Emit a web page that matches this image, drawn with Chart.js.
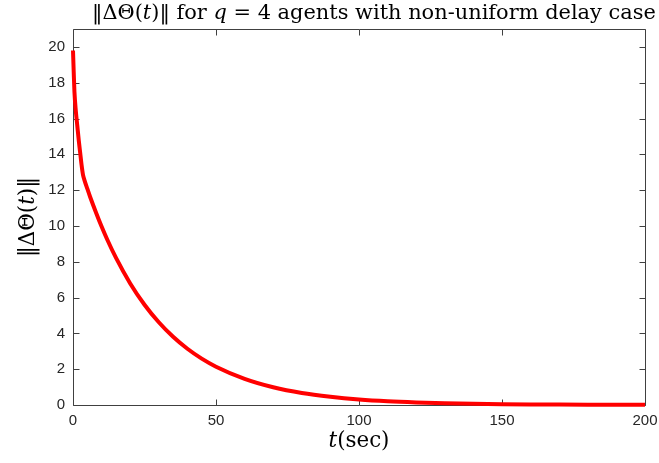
<!DOCTYPE html>
<html>
<head>
<meta charset="utf-8">
<script src="https://cdn.jsdelivr.net/npm/chart.js@4"></script>
<style>
html,body{margin:0;padding:0;background:#fff;}
#wrap{width:659px;height:463px;}
</style>
</head>
<body>
<div id="wrap"><canvas id="c" width="659" height="463"></canvas></div>
<script>
const tValues = [0,0.25,0.5,1,1.5,2,2.5,3,3.5,4,5,6,8,10,12,15,20,25,30,35,40,45,50,60,70,80,90,100,110,120,130,140,150,160,170,180,190,200];
const normValues = [19.8,18.6,17.5,16.4,15.6,14.8,14.1,13.4,12.85,12.56,12.08,11.62,10.77,9.97,9.23,8.23,6.79,5.60,4.62,3.81,3.14,2.59,2.14,1.46,0.99,0.67,0.46,0.31,0.21,0.145,0.10,0.067,0.046,0.031,0.021,0.014,0.010,0.007];
const xTicks = [0,50,100,150,200];
const yTicks = [0,2,4,6,8,10,12,14,16,18,20];

const titleSegs = [
  {t:'\u2016\u0394\u0398(',i:false},{t:'t',i:true},{t:')\u2016 for ',i:false},{t:'q',i:true},{t:' = 4 agents with non-uniform delay case',i:false}
];
const yLabelSegs = [{t:'\u2016\u0394\u0398(',i:false},{t:'t',i:true},{t:')\u2016',i:false}];
const xLabelSegs = [{t:'t',i:true},{t:'(sec)',i:false}];

const SERIF = '"DejaVu Serif", "Liberation Serif", serif';
function segFont(s,size){return (s.i?'italic ':'')+size+'px '+SERIF;}
function segWidth(ctx,segs,size){let w=0;for(const s of segs){ctx.font=segFont(s,size);w+=ctx.measureText(s.t).width;}return w;}
function drawSegs(ctx,segs,size,x,y){let cx=x;for(const s of segs){ctx.font=segFont(s,size);ctx.fillText(s.t,cx,y);cx+=ctx.measureText(s.t).width;}}
function fitSize(ctx,segs,w){const base=20;return base*w/segWidth(ctx,segs,base);}

const AX = '#262626';
const decor = {
  id:'decor',
  beforeDatasetsDraw(chart){
    const {ctx, chartArea:a, scales:{x,y}} = chart;
    ctx.save();
    ctx.strokeStyle = '#404040'; ctx.lineWidth = 1;
    const L=Math.round(a.left)+0.5, R=Math.round(a.right)+0.5, T=Math.round(a.top)+0.5, B=Math.round(a.bottom)+0.5;
    ctx.beginPath();
    ctx.moveTo(L,T);ctx.lineTo(R,T);ctx.lineTo(R,B);ctx.lineTo(L,B);ctx.closePath();
    const tl=6;
    for(const v of xTicks){const p=Math.round(x.getPixelForValue(v))+0.5;ctx.moveTo(p,B);ctx.lineTo(p,B-tl);ctx.moveTo(p,T);ctx.lineTo(p,T+tl);}
    for(const v of yTicks){const p=Math.round(y.getPixelForValue(v))+0.5;ctx.moveTo(L,p);ctx.lineTo(L+tl,p);ctx.moveTo(R,p);ctx.lineTo(R-tl,p);}
    ctx.stroke();
    ctx.restore();
  },
  afterDraw(chart){
    const {ctx, chartArea:a} = chart;
    ctx.save();
    ctx.fillStyle = '#000';
    ctx.textBaseline = 'alphabetic';
    ctx.textAlign = 'left';
    // title
    const ts = fitSize(ctx,titleSegs,564);
    drawSegs(ctx,titleSegs,ts,92,19);
    // x label
    const xs = fitSize(ctx,xLabelSegs,61);
    const xw = segWidth(ctx,xLabelSegs,xs);
    drawSegs(ctx,xLabelSegs,xs,(a.left+a.right)/2 - xw/2,447);
    // y label
    const ys = fitSize(ctx,yLabelSegs,80);
    const yw = segWidth(ctx,yLabelSegs,ys);
    ctx.translate(34,(a.top+a.bottom)/2);
    ctx.rotate(-Math.PI/2);
    drawSegs(ctx,yLabelSegs,ys,-yw/2,0);
    ctx.restore();
  }
};

const chart = new Chart(document.getElementById('c'),{
  type:'line',
  data:{datasets:[{
    data:tValues.map((t,i)=>({x:t,y:normValues[i]})),
    borderColor:'rgb(255,0,0)',
    borderWidth:4,
    pointRadius:0,
    fill:false,
    cubicInterpolationMode:'monotone',
    clip:false
  }]},
  options:{
    responsive:false,
    animation:false,
    events:[],
    layout:{padding:{top:29,right:14,left:0,bottom:0}},
    plugins:{legend:{display:false},title:{display:false},tooltip:{enabled:false}},
    scales:{
      x:{type:'linear',min:0,max:200,
        afterBuildTicks(s){s.ticks=xTicks.map(v=>({value:v}));},
        afterFit(s){s.height=58;s.paddingRight=0;s.paddingLeft=0;},
        grid:{display:false,drawTicks:false},border:{display:false},
        ticks:{padding:7,color:AX,font:{family:'"Liberation Sans", Arial, sans-serif',size:15},maxRotation:0}
      },
      y:{type:'linear',min:0,max:21,
        afterBuildTicks(s){s.ticks=yTicks.map(v=>({value:v}));},
        afterFit(s){s.width=73;s.paddingTop=0;s.paddingBottom=0;},
        grid:{display:false,drawTicks:false},border:{display:false},
        ticks:{padding:8,color:AX,font:{family:'"Liberation Sans", Arial, sans-serif',size:15}}
      }
    }
  },
  plugins:[decor]
});
</script>
</body>
</html>
